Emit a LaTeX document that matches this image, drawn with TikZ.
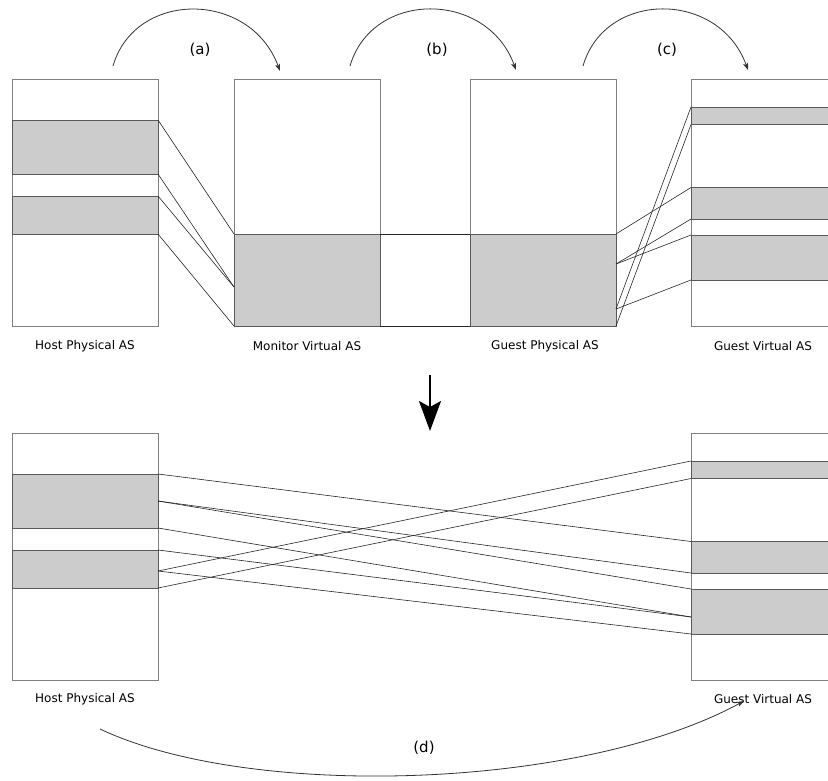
\documentclass[tikz,border=0pt]{standalone}
\usepackage{fontspec}
\setmainfont{DejaVu Sans}
\usetikzlibrary{arrows.meta}
\begin{document}
\begin{tikzpicture}[x=1pt, y=-1pt,
  asbox/.style={draw=black!50, line width=0.8pt, fill=white, inner sep=0pt, outer sep=0pt,
                anchor=north west, minimum width=146pt, minimum height=247pt},
  band/.style={draw=black!65, line width=0.8pt, fill=black!20, inner sep=0pt, outer sep=0pt,
               anchor=north west, minimum width=146pt},
  map/.style={line width=0.6pt, draw=black!85},
  hop/.style={line width=0.8pt, draw=black!80, -{Stealth[length=7pt,width=5pt,inset=1.5pt]}},
  aslabel/.style={font=\fontsize{12}{14}\selectfont},
  hoplabel/.style={font=\fontsize{15}{18}\selectfont}]
\useasboundingbox (0,0) rectangle (828,780);

% ---------- upper row: the four address spaces ----------
\node[asbox] (hpT) at (12,79) {};
\node[band, minimum height=54pt] (hpT1) at (12,120) {};
\node[band, minimum height=38pt] (hpT2) at (12,196) {};

\node[asbox] (mvT) at (234,79) {};
\node[band, minimum height=92pt] (mvTg) at (234,234) {};

\node[asbox] (gpT) at (470,79) {};
\node[band, minimum height=92pt] (gpTg) at (470,234) {};

\node[asbox] (gvT) at (691,79) {};
\node[band, minimum height=17.5pt] (gvT1) at (691,107) {};
\node[band, minimum height=31.5pt] (gvT2) at (691,187.5) {};
\node[band, minimum height=45pt] (gvT3) at (691,235) {};

\node[aslabel] (lhpT) at (85,346) {Host Physical AS};
\node[aslabel] (lmvT) at (307,346) {Monitor Virtual AS};
\node[aslabel] (lgpT) at (545,346) {Guest Physical AS};
\node[aslabel] (lgvT) at (763,346) {Guest Virtual AS};

% split points inside the mapped regions
\coordinate (mvTm) at (234,287);
\coordinate (gpTm1) at (616,264);
\coordinate (gpTm2) at (616,309);

% (a) host physical -> monitor virtual
\draw[map] (hpT1.north east) -- (mvTg.north west);
\draw[map] (hpT1.south east) -- (mvTm);
\draw[map] (hpT2.north east) -- (mvTm);
\draw[map] (hpT2.south east) -- (mvTg.south west);

% (b) monitor virtual -> guest physical (identity)
\draw[map] (mvTg.north east) -- (gpTg.north west);
\draw[map] (mvTg.south east) -- (gpTg.south west);

% (c) guest physical -> guest virtual
\draw[map] (gpTg.north east) -- (gvT2.north west);
\draw[map] (gpTm1) -- (gvT2.south west);
\draw[map] (gpTm1) -- (gvT3.north west);
\draw[map] (gpTm2) -- (gvT1.north west);
\draw[map] (gpTm2) -- (gvT3.south west);
\draw[map] (gpTg.south east) -- (gvT1.south west);

% step arrows above the row
\coordinate (a0) at (113,66);  \coordinate (a1) at (280,71);
\coordinate (b0) at (350,66);  \coordinate (b1) at (516,70);
\coordinate (c0) at (583,66);  \coordinate (c1) at (748,70);
\draw[hop] (a0) .. controls (135,-10) and (250,-10) .. (a1);
\draw[hop] (b0) .. controls (372,-10) and (487,-10) .. (b1);
\draw[hop] (c0) .. controls (605,-10) and (719,-10) .. (c1);
\node[hoplabel] (la) at (200,50) {(a)};
\node[hoplabel] (lb) at (437,50) {(b)};
\node[hoplabel] (lc) at (667,50) {(c)};

% composition arrow
\coordinate (dn0) at (430,375);
\coordinate (dn1) at (430,431);
\draw[line width=2pt, -{Stealth[length=30pt,width=22pt,inset=6pt]}] (dn0) -- (dn1);

% ---------- lower row: the composed mapping ----------
\node[asbox] (hpB) at (12,433) {};
\node[band, minimum height=54pt] (hpB1) at (12,474) {};
\node[band, minimum height=38pt] (hpB2) at (12,550) {};

\node[asbox] (gvB) at (691,433) {};
\node[band, minimum height=17.5pt] (gvB1) at (691,461) {};
\node[band, minimum height=31.5pt] (gvB2) at (691,541.5) {};
\node[band, minimum height=45pt] (gvB3) at (691,589) {};

\node[aslabel] (lhpB) at (85,699) {Host Physical AS};
\node[aslabel] (lgvB) at (763,699) {Guest Virtual AS};

\coordinate (hpBm1) at (158,501);
\coordinate (hpBm2) at (158,571);
\coordinate (gvBm) at (691,617);

% (d) host physical -> guest virtual
\draw[map] (hpB1.north east) -- (gvB2.north west);
\draw[map] (hpBm1) -- (gvB2.south west);
\draw[map] (hpBm1) -- (gvB3.north west);
\draw[map] (hpB1.south east) -- (gvBm);
\draw[map] (hpB2.north east) -- (gvBm);
\draw[map] (hpBm2) -- (gvB3.south west);
\draw[map] (hpBm2) -- (gvB1.north west);
\draw[map] (hpB2.south east) -- (gvB1.south west);

\coordinate (d0) at (100,729);
\coordinate (d1) at (744,701);
\draw[hop] (d0) .. controls (250,800) and (580,790) .. (d1);
\node[hoplabel] (ld) at (424,748) {(d)};
\end{tikzpicture}
\end{document}
